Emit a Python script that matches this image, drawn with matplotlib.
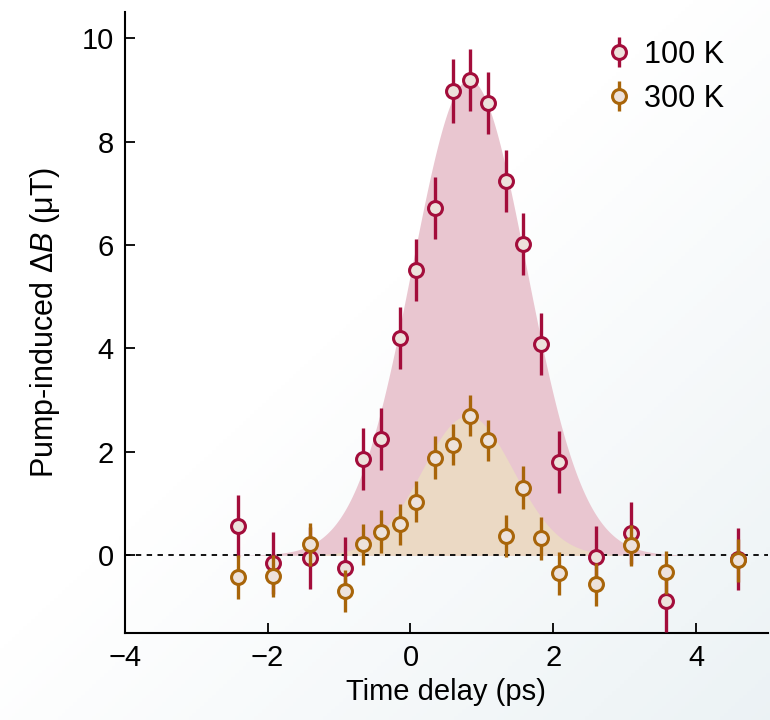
import numpy as np
import matplotlib
matplotlib.use("Agg")
import matplotlib.pyplot as plt

plt.rcParams['font.family'] = ['Liberation Sans', 'DejaVu Sans']
plt.rcParams['mathtext.fontset'] = 'custom'
plt.rcParams['mathtext.rm'] = 'Liberation Sans'
plt.rcParams['mathtext.it'] = 'Liberation Sans:italic'

# time delays (ps), shared by both temperatures
delay = [-2.41, -1.92, -1.40, -0.91, -0.66, -0.41, -0.15, 0.08, 0.34, 0.59,
         0.83, 1.08, 1.34, 1.58, 1.83, 2.08, 2.59, 3.08, 3.58, 4.59]

# 100 K
b_100 = [0.56, -0.14, -0.05, -0.25, 1.87, 2.24, 4.21, 5.52, 6.72, 8.98,
         9.19, 8.75, 7.24, 6.02, 4.09, 1.81, -0.04, 0.44, -0.89, -0.08]
err_100 = [0.60, 0.60, 0.60, 0.60, 0.60, 0.60, 0.60, 0.60, 0.60, 0.62,
           0.60, 0.60, 0.60, 0.60, 0.60, 0.60, 0.60, 0.60, 0.60, 0.60]

# 300 K
b_300 = [-0.42, -0.40, 0.21, -0.69, 0.21, 0.46, 0.60, 1.04, 1.89, 2.14,
         2.70, 2.22, 0.37, 1.31, 0.33, -0.35, -0.56, 0.19, -0.33, -0.10]
err_300 = [0.42, 0.40, 0.42, 0.40, 0.40, 0.42, 0.40, 0.40, 0.42, 0.40,
           0.40, 0.40, 0.40, 0.42, 0.42, 0.42, 0.42, 0.40, 0.42, 0.42]

# gaussian fit parameters (amplitude, centre, width)
fit_100 = (9.2, 0.82, 0.80)
fit_300 = (2.7, 0.80, 0.64)

red = '#A30D3B'
orange = '#A8650A'
face = '#EDE2DC'

fig = plt.figure(figsize=(7.7, 7.2), dpi=100)

# soft background gradient (white top-left to pale blue-grey bottom-right)
bg = fig.add_axes([0, 0, 1, 1], zorder=-10)
gx, gy = np.meshgrid(np.linspace(0, 1, 200), np.linspace(0, 1, 200))
g = np.clip((gx + gy - 0.9) / 1.1, 0, 1)
c0 = np.array([1.0, 1.0, 1.0])
c1 = np.array([0.925, 0.950, 0.960])
img = c0 + (c1 - c0) * g[..., None]
bg.imshow(img, extent=[0, 1, 0, 1], aspect='auto', origin='upper')
bg.axis('off')

ax = fig.add_axes([0.162, 0.121, 0.835, 0.862])
ax.patch.set_alpha(0)

t = np.linspace(-4, 5, 600)
a, c, s = fit_100
ax.fill_between(t, 0, a * np.exp(-(t - c) ** 2 / (2 * s ** 2)), color='#E9C6D0', lw=0, zorder=1)
a, c, s = fit_300
ax.fill_between(t, 0, a * np.exp(-(t - c) ** 2 / (2 * s ** 2)), color='#EBD9C4', lw=0, zorder=2)

ax.axhline(0, color='black', ls=(0, (3, 3)), lw=1.3, zorder=3)

h1 = ax.errorbar(delay, b_100, yerr=err_100, fmt='o', color=red, mfc=face, mec=red,
                 ms=10, mew=2.2, elinewidth=2.4, capsize=0, zorder=4, label='100 K')
h2 = ax.errorbar(delay, b_300, yerr=err_300, fmt='o', color=orange, mfc=face, mec=orange,
                 ms=10, mew=2.2, elinewidth=2.4, capsize=0, zorder=5, label='300 K')

ax.set_xlim(-4, 5)
ax.set_ylim(-1.5, 10.5)
ax.set_xticks([-4, -2, 0, 2, 4])
ax.set_xticklabels(['\u22124', '\u22122', '0', '2', '4'])
ax.set_yticks([0, 2, 4, 6, 8, 10])
ax.tick_params(direction='in', length=7, width=1.3, labelsize=21, pad=8)
for side in ['top', 'right']:
    ax.spines[side].set_visible(False)
for side in ['left', 'bottom']:
    ax.spines[side].set_linewidth(1.5)

ax.set_xlabel('Time delay (ps)', fontsize=21, labelpad=4)
ax.set_ylabel('Pump-induced Δ$\\mathit{B}$ (μT)', fontsize=22, labelpad=14)

ax.legend(handles=[h1, h2], loc='upper right', bbox_to_anchor=(0.96, 0.985), frameon=False,
          fontsize=22, handlelength=0.6, handletextpad=0.5, borderaxespad=0.2, labelspacing=0.45)

fig.savefig('out.png', dpi=100)
